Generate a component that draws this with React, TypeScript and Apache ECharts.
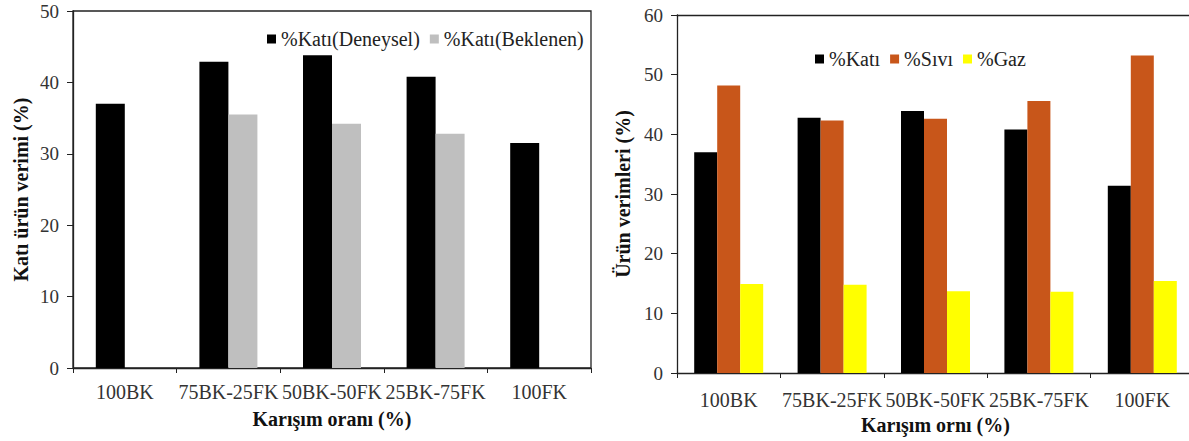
import React, { useEffect, useRef } from "react";
import * as echarts from "echarts";

const categories = ["100BK", "75BK-25FK", "50BK-50FK", "25BK-75FK", "100FK"];
const katiDeneysel = [37.0, 42.9, 43.8, 40.8, 31.5];
const katiBeklenen: (number | null)[] = [null, 35.5, 34.2, 32.8, null];
const kati = [37.0, 42.8, 43.9, 40.8, 31.4];
const sivi = [48.2, 42.3, 42.6, 45.6, 53.2];
const gaz = [14.9, 14.8, 13.7, 13.6, 15.4];
const leftTicks = { min: 0, max: 50, interval: 10 };
const rightTicks = { min: 0, max: 60, interval: 10 };

const FONT = "Liberation Serif";

export default function App() {
  const ref = useRef<HTMLDivElement>(null);
  useEffect(() => {
    if (!ref.current) return;
    const chart = echarts.init(ref.current, undefined, { renderer: "svg" });
    const axisLine = { show: true, lineStyle: { color: "#222", width: 1.3 } };
    const labelStyle = { fontFamily: FONT, fontSize: 19, color: "#333" };
    const nameStyle = { fontFamily: FONT, fontSize: 20, fontWeight: "bold" as const, color: "#111" };
    const xAxisBase = (gridIndex: number, name: string, margin: number, gap: number) => ({
      type: "category" as const,
      gridIndex,
      data: categories,
      boundaryGap: true,
      axisLine,
      axisTick: { show: true, length: 5, inside: false, lineStyle: { color: "#222" } },
      axisLabel: { ...labelStyle, fontSize: 20, margin, interval: 0 },
      name,
      nameLocation: "middle" as const,
      nameGap: gap,
      nameTextStyle: nameStyle,
      splitLine: { show: false },
    });
    const topAxis = (gridIndex: number) => ({
      type: "category" as const,
      gridIndex,
      data: categories,
      position: "top" as const,
      axisLine,
      axisTick: { show: false },
      axisLabel: { show: false },
      splitLine: { show: false },
    });
    const yAxisBase = (gridIndex: number, name: string, t: any, margin: number, gap: number) => ({
      type: "value" as const,
      gridIndex,
      ...t,
      axisLine,
      axisTick: { show: true, length: 6, lineStyle: { color: "#222" } },
      axisLabel: { ...labelStyle, margin },
      splitLine: { show: false },
      name,
      nameLocation: "middle" as const,
      nameGap: gap,
      nameTextStyle: nameStyle,
    });
    const legendText = { fontFamily: FONT, fontSize: 20, color: "#222" };
    chart.setOption({
      animation: false,
      backgroundColor: "#fff",
      grid: [
        { left: 73, top: 11, width: 518, height: 357, show: true, borderColor: "#222", borderWidth: 1.3, backgroundColor: "transparent", outerBoundsMode: "none" },
        { left: 677, top: 15, width: 517, height: 358, show: false, outerBoundsMode: "none" },
      ],
      legend: [
        {
          data: ["%Katı(Deneysel)", "%Katı(Beklenen)"],
          left: 262,
          top: 24,
          itemWidth: 9,
          itemHeight: 9,
          itemGap: 10,
          icon: "rect",
          textStyle: legendText,
        },
        {
          data: ["%Katı", "%Sıvı", "%Gaz"],
          left: 810,
          top: 44,
          itemWidth: 9,
          itemHeight: 9,
          itemGap: 10,
          icon: "rect",
          textStyle: legendText,
        },
      ],
      xAxis: [
        xAxisBase(0, "Karışım oranı (%)", 14, 41),
        xAxisBase(1, "Karışım ornı (%)", 17, 41),
        topAxis(1),
      ],
      yAxis: [
        yAxisBase(0, "Katı ürün verimi (%)", leftTicks, 14, 42),
        yAxisBase(1, "Ürün verimleri (%)", rightTicks, 14, 44),
      ],
      series: [
        { name: "%Katı(Deneysel)", type: "bar", xAxisIndex: 0, yAxisIndex: 0, data: katiDeneysel, barWidth: 29, barGap: "0%", itemStyle: { color: "#000" } },
        { name: "%Katı(Beklenen)", type: "bar", xAxisIndex: 0, yAxisIndex: 0, data: katiBeklenen, barWidth: 29, barGap: "0%", itemStyle: { color: "#bfbfbf" } },
        { name: "%Katı", type: "bar", xAxisIndex: 1, yAxisIndex: 1, data: kati, barWidth: 23, barGap: "0%", itemStyle: { color: "#000" } },
        { name: "%Sıvı", type: "bar", xAxisIndex: 1, yAxisIndex: 1, data: sivi, barWidth: 23, barGap: "0%", itemStyle: { color: "#c8561a" } },
        { name: "%Gaz", type: "bar", xAxisIndex: 1, yAxisIndex: 1, data: gaz, barWidth: 23, barGap: "0%", itemStyle: { color: "#ffff00" } },
      ],
    });
    return () => chart.dispose();
  }, []);
  return (
    <div
      ref={ref}
      style={{ position: "absolute", left: 0, top: 0, width: 1189, height: 441, background: "#fff" }}
    />
  );
}
